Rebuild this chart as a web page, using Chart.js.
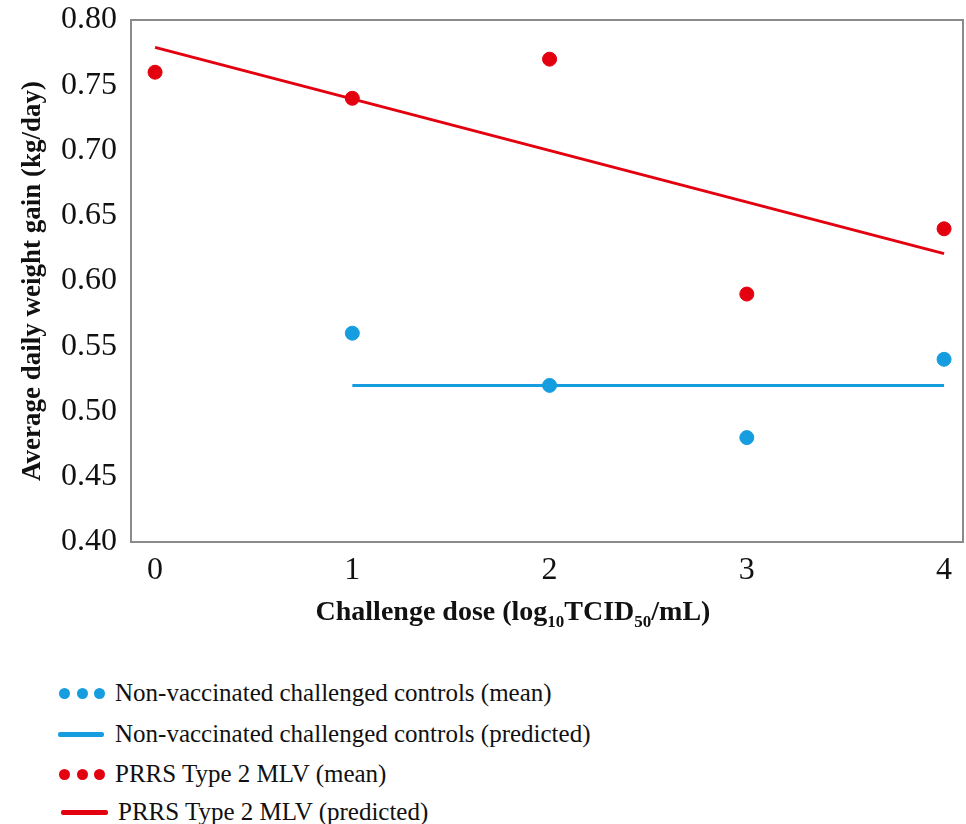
<!DOCTYPE html>
<html lang="en">
<head>
<meta charset="UTF-8">
<title>Average daily weight gain vs challenge dose</title>
<script src="https://cdn.jsdelivr.net/npm/chart.js@4/dist/chart.umd.min.js"></script>
<style>
  body { margin: 0; background: #fff; }
  #wrap { position: relative; width: 966px; height: 824px; overflow: hidden; }
  #legend { position: absolute; left: 0; top: 675px; font-family: "Liberation Serif", "Times New Roman", serif; font-size: 25px; color: #111; }
  .row { position: absolute; left: 0; height: 30px; width: 800px; }
  .row span.txt { position: absolute; left: 115px; top: 0; line-height: 30px; white-space: nowrap; }
  .dot { position: absolute; width: 11px; height: 11px; border-radius: 50%; top: 10px; }
  .bar { position: absolute; height: 5px; top: 13px; border-radius: 2px; }
</style>
</head>
<body>
<div id="wrap">
  <canvas id="chart" width="971" height="650"></canvas>
  <div id="legend">
    <div class="row" style="top:3px">
      <div class="dot" style="left:59px;background:#169ddf"></div>
      <div class="dot" style="left:77px;background:#169ddf"></div>
      <div class="dot" style="left:94px;background:#169ddf"></div>
      <span class="txt">Non-vaccinated challenged controls (mean)</span>
    </div>
    <div class="row" style="top:44px">
      <div class="bar" style="left:58px;width:46px;background:#169ddf"></div>
      <span class="txt">Non-vaccinated challenged controls (predicted)</span>
    </div>
    <div class="row" style="top:84px">
      <div class="dot" style="left:59px;background:#e3000f"></div>
      <div class="dot" style="left:77px;background:#e3000f"></div>
      <div class="dot" style="left:94px;background:#e3000f"></div>
      <span class="txt">PRRS Type 2 MLV (mean)</span>
    </div>
    <div class="row" style="top:122px">
      <div class="bar" style="left:61px;width:47px;background:#e3000f"></div>
      <span class="txt" style="left:118px">PRRS Type 2 MLV (predicted)</span>
    </div>
  </div>
</div>
<script>
// challenge dose (log10 TCID50/mL)
var controlDose = [1, 2, 3, 4]
var controlMean = [0.56, 0.52, 0.48, 0.54]
var controlPredDose = [1, 4]
var controlPred = [0.52, 0.52]

var mlvDose = [0, 1, 2, 3, 4]
var mlvMean = [0.76, 0.74, 0.77, 0.59, 0.64]
var mlvPredDose = [0, 4]
var mlvPred = [0.779, 0.621]

var xTicks = [0, 1, 2, 3, 4]

var BLUE = '#169ddf'
var RED = '#e3000f'
var SERIF = '"Liberation Serif", "Times New Roman", serif'

function pts(xs, ys) {
    return xs.map(function (x, i) { return { x: x, y: ys[i] } })
}

// box around plot area + x title with subscripts
var extras = {
    id: 'extras',
    afterDraw: function (chart) {
        var ctx = chart.ctx
        var a = chart.chartArea
        ctx.save()
        ctx.strokeStyle = '#8a8a8a'
        ctx.lineWidth = 2
        ctx.strokeRect(a.left, a.top, a.right - a.left, a.bottom - a.top)

        var parts = [
            ['Challenge dose (log', 28, 0],
            ['10', 17, 7],
            ['TCID', 28, 0],
            ['50', 17, 7],
            ['/mL)', 28, 0]
        ]
        var total = 0
        parts.forEach(function (p) {
            ctx.font = 'bold ' + p[1] + 'px ' + SERIF
            p.w = ctx.measureText(p[0]).width
            total += p.w
        })
        var x = 513 - total / 2
        var base = 620
        ctx.fillStyle = '#111'
        ctx.textBaseline = 'alphabetic'
        parts.forEach(function (p) {
            ctx.font = 'bold ' + p[1] + 'px ' + SERIF
            ctx.fillText(p[0], x, base + p[2])
            x += p.w
        })
        ctx.restore()
    }
}

var config = {
    type: 'scatter',
    data: {
        datasets: [
            {
                label: 'Non-vaccinated challenged controls (mean)',
                data: pts(controlDose, controlMean),
                backgroundColor: BLUE,
                borderColor: BLUE,
                pointRadius: 7,
                pointHoverRadius: 7
            },
            {
                label: 'Non-vaccinated challenged controls (predicted)',
                data: pts(controlPredDose, controlPred),
                showLine: true,
                borderColor: BLUE,
                borderWidth: 3,
                pointRadius: 0
            },
            {
                label: 'PRRS Type 2 MLV (mean)',
                data: pts(mlvDose, mlvMean),
                backgroundColor: RED,
                borderColor: RED,
                pointRadius: 7,
                pointHoverRadius: 7
            },
            {
                label: 'PRRS Type 2 MLV (predicted)',
                data: pts(mlvPredDose, mlvPred),
                showLine: true,
                borderColor: RED,
                borderWidth: 3,
                pointRadius: 0
            }
        ]
    },
    options: {
        responsive: false,
        animation: false,
        layout: { padding: { top: 20, right: 0, left: 0, bottom: 0 } },
        plugins: {
            legend: { display: false },
            tooltip: { enabled: false }
        },
        scales: {
            x: {
                type: 'linear',
                min: -0.122,
                max: 4.096,
                grid: { display: false },
                border: { display: false },
                afterBuildTicks: function (s) {
                    s.ticks = xTicks.map(function (v) { return { value: v } })
                },
                afterFit: function (s) {
                    s.height = 650 - 542
                    s.paddingLeft = 0
                    s.paddingRight = 0
                },
                ticks: {
                    color: '#111',
                    padding: 1,
                    maxRotation: 0,
                    font: { family: SERIF, size: 32 }
                }
            },
            y: {
                min: 0.40,
                max: 0.80,
                grid: { display: false },
                border: { display: false },
                afterFit: function (s) {
                    s.width = 131
                    s.paddingTop = 0
                    s.paddingBottom = 0
                },
                ticks: {
                    stepSize: 0.05,
                    color: '#111',
                    padding: 6,
                    font: { family: SERIF, size: 32 },
                    callback: function (v) { return v.toFixed(2) }
                },
                title: {
                    display: true,
                    text: 'Average daily weight gain (kg/day)',
                    color: '#111',
                    padding: { top: 17, bottom: 0 },
                    font: { family: SERIF, size: 27, weight: 'bold' }
                }
            }
        }
    },
    plugins: [extras]
}

window.addEventListener('load', function () {
    new Chart(document.getElementById('chart'), config)
})
</script>
</body>
</html>
